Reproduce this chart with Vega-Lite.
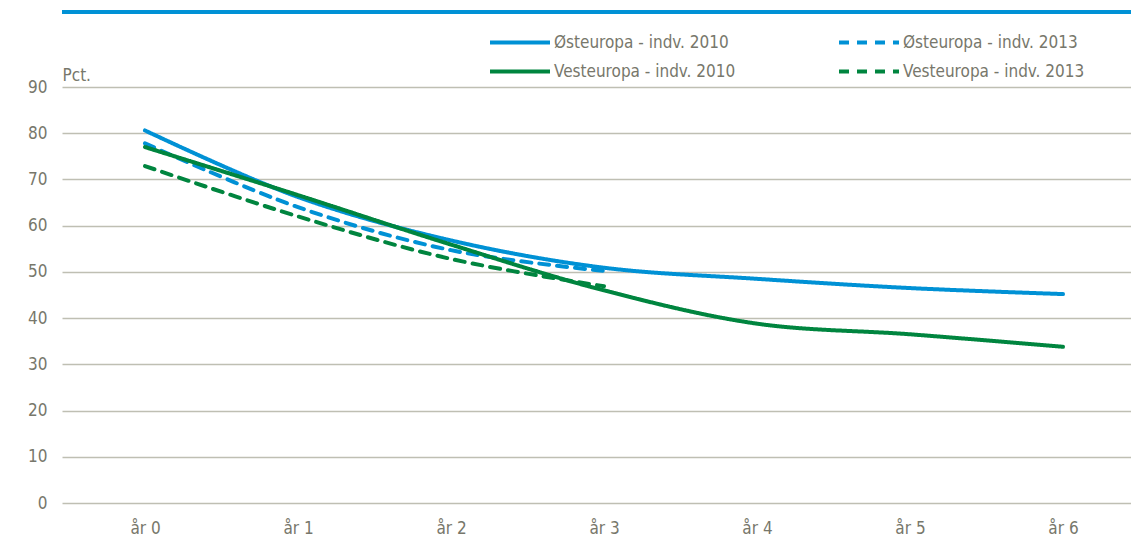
{
  "$schema": "https://vega.github.io/schema/vega-lite/v6.json",
  "width": 1084,
  "height": 416,
  "autosize": {"type": "none"},
  "padding": {"left": 62, "top": 87, "right": 0, "bottom": 41},
  "background": "white",
  "config": {
    "view": {"stroke": null},
    "font": "DejaVu Sans Condensed, Liberation Sans, sans-serif",
    "axis": {"labelFont": "DejaVu Sans Condensed, Liberation Sans, sans-serif", "titleFont": "DejaVu Sans Condensed, Liberation Sans, sans-serif"},
    "legend": {"labelFont": "DejaVu Sans Condensed, Liberation Sans, sans-serif"}
  },
  "data": {
    "values": [
      {"år": "år 0", "serie": "Østeuropa - indv. 2010", "pct": 80.6},
      {"år": "år 1", "serie": "Østeuropa - indv. 2010", "pct": 66.2},
      {"år": "år 2", "serie": "Østeuropa - indv. 2010", "pct": 56.8},
      {"år": "år 3", "serie": "Østeuropa - indv. 2010", "pct": 50.9},
      {"år": "år 4", "serie": "Østeuropa - indv. 2010", "pct": 48.5},
      {"år": "år 5", "serie": "Østeuropa - indv. 2010", "pct": 46.5},
      {"år": "år 6", "serie": "Østeuropa - indv. 2010", "pct": 45.2},
      {"år": "år 0", "serie": "Østeuropa - indv. 2013", "pct": 77.8},
      {"år": "år 1", "serie": "Østeuropa - indv. 2013", "pct": 64.0},
      {"år": "år 2", "serie": "Østeuropa - indv. 2013", "pct": 54.7},
      {"år": "år 3", "serie": "Østeuropa - indv. 2013", "pct": 50.2},
      {"år": "år 0", "serie": "Vesteuropa - indv. 2010", "pct": 77.0},
      {"år": "år 1", "serie": "Vesteuropa - indv. 2010", "pct": 66.6},
      {"år": "år 2", "serie": "Vesteuropa - indv. 2010", "pct": 55.9},
      {"år": "år 3", "serie": "Vesteuropa - indv. 2010", "pct": 46.0},
      {"år": "år 4", "serie": "Vesteuropa - indv. 2010", "pct": 38.8},
      {"år": "år 5", "serie": "Vesteuropa - indv. 2010", "pct": 36.5},
      {"år": "år 6", "serie": "Vesteuropa - indv. 2010", "pct": 33.8},
      {"år": "år 0", "serie": "Vesteuropa - indv. 2013", "pct": 72.9},
      {"år": "år 1", "serie": "Vesteuropa - indv. 2013", "pct": 62.0},
      {"år": "år 2", "serie": "Vesteuropa - indv. 2013", "pct": 52.8},
      {"år": "år 3", "serie": "Vesteuropa - indv. 2013", "pct": 46.9}
    ]
  },
  "layer": [
    {
      "mark": {"type": "rule", "color": "#0091D5", "strokeWidth": 3, "clip": false},
      "encoding": {"y": {"datum": 106.2, "type": "quantitative"}}
    },
    {
      "mark": {"type": "line", "interpolate": "catmull-rom", "strokeWidth": 4, "strokeCap": "round"},
      "encoding": {
        "x": {
          "field": "år", "type": "ordinal",
          "scale": {"type": "point", "padding": 0.5425},
          "axis": {"title": null, "labelAngle": 0, "domain": false, "ticks": false, "grid": false,
                   "labelPadding": 17, "labelFontSize": 17, "labelColor": "#77776b"}
        },
        "y": {
          "field": "pct", "type": "quantitative",
          "scale": {"domain": [0, 90]},
          "axis": {"values": [0,10,20,30,40,50,60,70,80,90], "grid": true, "title": "Pct.", "titleAngle": 0,
                   "titleAlign": "left", "titleBaseline": "bottom", "titleX": 0, "titleY": -3,
                   "titleFontWeight": "normal", "titleFontSize": 17, "titleColor": "#77776b",
                   "domain": false, "ticks": false, "labelPadding": 15, "labelFontSize": 17,
                   "labelColor": "#77776b", "gridColor": "#bfbfb3", "gridWidth": 1.5}
        },
        "color": {
          "field": "serie", "type": "nominal",
          "scale": {"domain": ["Østeuropa - indv. 2010", "Vesteuropa - indv. 2010", "Østeuropa - indv. 2013", "Vesteuropa - indv. 2013"],
                    "range": ["#0091D5", "#00853F", "#0091D5", "#00853F"]},
          "legend": {"title": null, "orient": "none", "legendX": 426, "legendY": -59, "columns": 2,
                     "symbolType": "stroke", "symbolSize": 3600, "symbolStrokeWidth": 4,
                     "labelFontSize": 17, "labelColor": "#77776b", "labelOffset": 2,
                     "columnPadding": 101, "rowPadding": 0, "clipHeight": 29, "labelLimit": 300}
        },
        "strokeDash": {
          "field": "serie", "type": "nominal",
          "scale": {"domain": ["Østeuropa - indv. 2010", "Vesteuropa - indv. 2010", "Østeuropa - indv. 2013", "Vesteuropa - indv. 2013"],
                    "range": [[1, 0], [1, 0], [10, 8], [10, 8]]},
          "legend": {"title": null, "orient": "none", "legendX": 426, "legendY": -59, "columns": 2,
                     "symbolType": "stroke", "symbolSize": 3600, "symbolStrokeWidth": 4,
                     "labelFontSize": 17, "labelColor": "#77776b", "labelOffset": 2,
                     "columnPadding": 101, "rowPadding": 0, "clipHeight": 29, "labelLimit": 300}
        }
      }
    }
  ]
}
